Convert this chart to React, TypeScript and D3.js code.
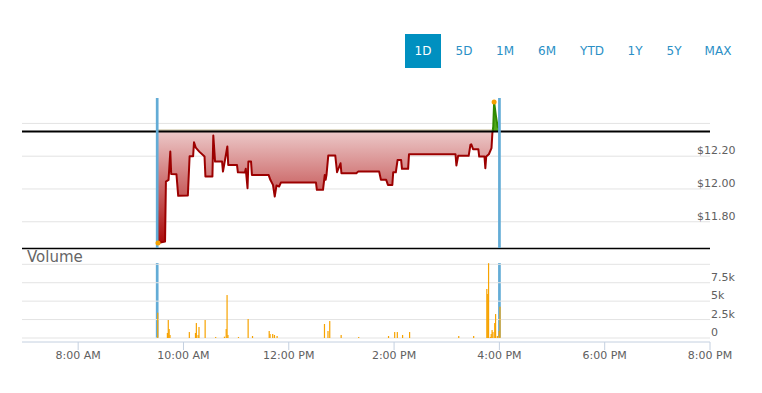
import * as d3 from "d3";

// intraday price (time, last trade)
const priceTimes = [
  "09:30", "09:31", "09:39", "09:40", "09:43", "09:45", "09:46", "09:52", "09:54", "10:05",
  "10:07", "10:11", "10:12", "10:14", "10:18", "10:24", "10:25", "10:33", "10:34", "10:36",
  "10:44", "10:45", "10:50", "10:51", "11:01", "11:02", "11:10", "11:11", "11:13", "11:14",
  "11:17", "11:18", "11:37", "11:39", "11:42", "11:44", "11:46", "11:49", "11:51", "12:31",
  "12:32", "12:39", "12:41", "12:42", "12:43", "12:45", "12:53", "12:55", "12:59", "13:00",
  "13:17", "13:19", "13:43", "13:45", "13:51", "13:53", "13:58", "13:59", "14:02", "14:04",
  "14:08", "14:09", "14:16", "14:17", "15:10", "15:11", "15:13", "15:25", "15:27", "15:28",
  "15:30", "15:36", "15:37", "15:43", "15:44", "15:45", "15:48", "15:51", "15:52", "15:53",
  "15:54", "15:56", "15:58", "16:00",
];
const prices = [
  11.87, 11.67, 11.68, 12.045, 12.055, 12.228, 12.092, 12.09, 11.958, 11.96,
  12.2, 12.2, 12.285, 12.252, 12.228, 12.198, 12.076, 12.076, 12.326, 12.167,
  12.167, 12.106, 12.259, 12.147, 12.147, 12.102, 12.1, 12.123, 12.005, 12.167,
  12.167, 12.086, 12.086, 12.056, 12.025, 11.954, 12.021, 12.015, 12.039, 12.039,
  11.995, 11.995, 12.086, 12.056, 12.086, 12.204, 12.204, 12.102, 12.157, 12.096,
  12.096, 12.106, 12.106, 12.056, 12.056, 12.025, 12.025, 12.102, 12.102, 12.177,
  12.177, 12.123, 12.123, 12.212, 12.212, 12.143, 12.202, 12.202, 12.269, 12.273,
  12.243, 12.243, 12.198, 12.198, 12.127, 12.198, 12.212, 12.249, 12.34, 12.38,
  12.53, 12.448, 12.38, 12.37,
];
const previousClose = 12.35;
const lowPoint = { time: "09:31", price: 11.67 };
const highPoint = { time: "15:54", price: 12.53 };

// per-minute volume
const volumeTimes = [
  "09:30", "09:41", "09:42", "09:43", "09:44", "10:06", "10:13", "10:14", "10:16", "10:17",
  "10:24", "10:36", "10:46", "10:48", "10:49", "10:50", "11:02", "11:13", "11:18", "11:37",
  "11:38", "11:41", "11:43", "11:46", "12:40", "12:44", "12:46", "12:59", "13:19", "13:53",
  "14:00", "14:03", "14:09", "14:17", "15:13", "15:30", "15:45", "15:46", "15:47", "15:49",
  "15:50", "15:51", "15:52", "15:54", "15:55", "15:57", "15:59", "16:00",
];
const volumes = [
  3430, 680, 2440, 1220, 410, 810, 680, 2030, 410, 1490,
  2440, 140, 180, 1220, 5830, 410, 140, 2580, 270, 950,
  540, 540, 410, 270, 1900, 950, 2300, 410, 140, 270,
  810, 810, 410, 810, 270, 270, 6650, 5970, 10150, 140,
  540, 1080, 810, 2030, 3250, 270, 950, 4250,
];

const priceTicks = [11.8, 12.0, 12.2, 12.4];
const priceLabelTicks = [11.8, 12.0, 12.2];
const volumeTicks = [0, 2500, 5000, 7500, 10000];
const timeTicks = ["08:00", "10:00", "12:00", "14:00", "16:00", "18:00", "20:00"];
const sessionBounds = ["09:30", "16:00"];
const ranges = ["1D", "5D", "1M", "6M", "YTD", "1Y", "5Y", "MAX"];
const rangeCenters = [423, 464, 505, 547, 592, 635, 674, 718];

const at = (hm: string) => {
  const [h, m] = hm.split(":").map(Number);
  return new Date(2020, 0, 2, h, m);
};

const FONT = "'DejaVu Sans', Verdana, sans-serif";

export default function App() {
  const width = 762;
  const height = 393;
  const left = 22;
  const right = 710;

  const x = d3.scaleTime().domain([at("06:56"), at("20:00")]).range([left, right]);
  const yPrice = d3.scaleLinear().domain([11.64, 12.555]).range([248, 98]);
  const yVol = d3.scaleLinear().domain([0, 10000]).range([338, 264.3]);

  const series = priceTimes.map((t, i) => ({ t: at(t), p: prices[i] }));
  const baseY = yPrice(previousClose);

  const line = d3
    .line<{ t: Date; p: number }>()
    .x((d) => x(d.t))
    .y((d) => yPrice(d.p));
  const area = d3
    .area<{ t: Date; p: number }>()
    .x((d) => x(d.t))
    .y0(baseY)
    .y1((d) => yPrice(d.p));

  const linePath = line(series) ?? "";
  const areaPath = area(series) ?? "";
  const fmt = d3.timeFormat("%-I:%M %p");
  const bandW = 1.2;

  return (
    <svg
      width={width}
      height={height}
      style={{ position: "absolute", left: 0, top: 0, background: "#fff" }}
      fontFamily={FONT}
    >
      <defs>
        <linearGradient id="redFill" gradientUnits="userSpaceOnUse" x1="0" y1={baseY} x2="0" y2={248}>
          <stop offset="0" stopColor="#ecc8c8" />
          <stop offset="1" stopColor="#a80000" />
        </linearGradient>
        <clipPath id="belowClose">
          <rect x={left} y={baseY} width={right - left} height={248 - baseY} />
        </clipPath>
        <clipPath id="aboveClose">
          <rect x={left} y={90} width={right - left} height={baseY - 90} />
        </clipPath>
      </defs>

      {/* range selector */}
      <rect x={405} y={34} width={36} height={34} fill="#0090c0" />
      {ranges.map((r, i) => (
        <text
          key={r}
          x={rangeCenters[i]}
          y={55}
          textAnchor="middle"
          fontSize={12}
          fill={i === 0 ? "#fff" : "#2a8fc6"}
        >
          {r}
        </text>
      ))}

      {/* price grid */}
      {priceTicks.map((v) => (
        <line key={v} x1={left} x2={right} y1={yPrice(v)} y2={yPrice(v)} stroke="#e3e3e3" />
      ))}
      {priceLabelTicks.map((v) => (
        <text key={v} x={697} y={yPrice(v) - 2} fontSize={11} fill="#606060">
          {`$${v.toFixed(2)}`}
        </text>
      ))}

      {/* price area + line */}
      <g clipPath="url(#belowClose)">
        <path d={areaPath} fill="url(#redFill)" />
        <path d={linePath} fill="none" stroke="#9c0000" strokeWidth={2} strokeLinejoin="round" />
      </g>
      <g clipPath="url(#aboveClose)">
        <path d={areaPath} fill="#4fa81c" />
        <path d={linePath} fill="none" stroke="#2f8a00" strokeWidth={2} strokeLinejoin="round" />
      </g>
      <line
        x1={x(at("09:30"))}
        x2={x(at("15:52"))}
        y1={baseY - 1.5}
        y2={baseY - 1.5}
        stroke="#b3a777"
        strokeWidth={1}
      />

      {/* previous close + pane border */}
      <line x1={left} x2={right} y1={baseY} y2={baseY} stroke="#000" strokeWidth={2} />
      <line x1={left} x2={right} y1={248.5} y2={248.5} stroke="#000" strokeWidth={1.5} />

      {/* session bounds */}
      {sessionBounds.map((s) => (
        <g key={s}>
          <rect x={x(at(s)) - 1.3} y={98} width={2.7} height={150} fill="#63acd6" />
          <rect x={x(at(s)) - 1.3} y={263} width={2.7} height={75} fill="#63acd6" />
        </g>
      ))}

      {/* day low/high markers */}
      <circle cx={x(at(lowPoint.time))} cy={yPrice(lowPoint.price)} r={2.5} fill="#f5a000" />
      <circle cx={x(at(highPoint.time))} cy={yPrice(highPoint.price)} r={2.5} fill="#f5a000" />

      {/* volume pane */}
      <text x={27} y={262} fontSize={15} fill="#666">
        Volume
      </text>
      {volumeTicks.map((v) => (
        <line key={v} x1={left} x2={right} y1={yVol(v)} y2={yVol(v)} stroke="#e3e3e3" />
      ))}
      {volumeTicks.slice(0, 4).map((v) => (
        <text key={v} x={711} y={yVol(v) - 2} fontSize={11} fill="#606060">
          {v === 0 ? "0" : `${v / 1000}k`}
        </text>
      ))}
      {volumeTimes.map((t, i) => (
        <rect
          key={t}
          x={x(at(t)) - bandW / 2 + 0.6}
          y={yVol(volumes[i])}
          width={bandW}
          height={yVol(0) - yVol(volumes[i])}
          fill="#f7a300"
        />
      ))}

      {/* time axis */}
      <line x1={left} x2={right} y1={342} y2={342} stroke="#c4d0e0" />
      {timeTicks.map((t) => (
        <g key={t}>
          <line x1={x(at(t))} x2={x(at(t))} y1={342} y2={350} stroke="#c4d0e0" />
          <text x={x(at(t))} y={359} textAnchor="middle" fontSize={11} fill="#606060">
            {fmt(at(t))}
          </text>
        </g>
      ))}
    </svg>
  );
}
